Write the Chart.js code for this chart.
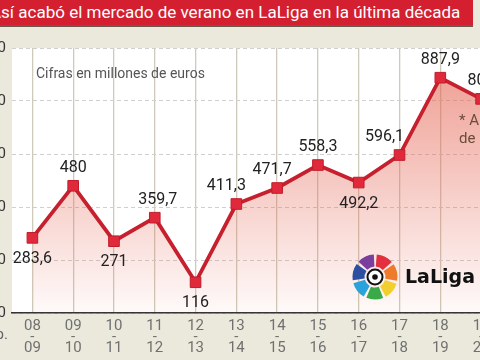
<!DOCTYPE html>
<html>
<head>
<meta charset="utf-8">
<script src="https://cdn.jsdelivr.net/npm/chart.js@4"></script>
<style>
  html, body { margin: 0; padding: 0; }
  body { width: 480px; height: 360px; overflow: hidden; position: relative; background: #ebe9dc; font-family: Roboto, sans-serif; }
  #title { position: absolute; left: -10px; top: 0; width: 483px; height: 25px; background: #d31f30; color: #fff;
           font-size: 17px; line-height: 24px; white-space: nowrap; border-bottom: 2px solid #6b5a50; z-index: 2; }
  #wrap { position: absolute; left: -30px; top: 0; width: 540px; height: 360px; }
  #note { position: absolute; left: 36px; top: 65px; font-size: 14px; color: #555; }
  #temp { position: absolute; left: -60px; width: 68px; top: 325px; text-align: right; font-size: 15px; color: #666; }
  #star { position: absolute; left: 459px; top: 111px; font-size: 15px; line-height: 18px; color: #6b4b3b; white-space: nowrap; }
</style>
</head>
<body>
<div id="title">Así acabó el mercado de verano en LaLiga en la última década</div>
<div id="wrap"><canvas id="chart" width="540" height="360"></canvas></div>
<div id="note">Cifras en millones de euros</div>
<div id="temp">Temp.</div>
<div id="star">* A fecha de cierre<br>de la ventana</div>
<script>
  // Temporadas (verano) y gasto en millones de euros
  const seasons = ['08-09', '09-10', '10-11', '11-12', '12-13', '13-14', '14-15', '15-16', '16-17', '17-18', '18-19', '19-20'];
  const spending = [283.6, 480, 271, 359.7, 116, 411.3, 471.7, 558.3, 492.2, 596.1, 887.9, 808];
  const yTicks = [0, 200, 400, 600, 800, 1000];

  const fmt = v => String(v).replace('.', ',');

  // fondo blanco del area del grafico
  const plotBg = {
    id: 'plotBg',
    beforeDraw(chart) {
      const { ctx, chartArea: a } = chart;
      ctx.save();
      ctx.fillStyle = '#ffffff';
      ctx.fillRect(a.left, a.top, chart.width - a.left, a.bottom - a.top);
      ctx.restore();
    }
  };

  // etiquetas de valor encima / debajo de cada punto
  const valueLabels = {
    id: 'valueLabels',
    afterDatasetsDraw(chart, args, opts) {
      const meta = chart.getDatasetMeta(0);
      const ctx = chart.ctx;
      ctx.save();
      ctx.font = '16px Roboto';
      ctx.fillStyle = '#222';
      ctx.textAlign = 'center';
      ctx.textBaseline = 'middle';
      meta.data.forEach((pt, i) => {
        const below = opts.below.includes(i);
        const dx = opts.shift[i] || 0;
        ctx.fillText(fmt(spending[i]), pt.x + dx, pt.y + (below ? 21 : -18));
      });
      ctx.restore();
    }
  };

  // logo de LaLiga
  const logo = {
    id: 'logo',
    afterDraw(chart) {
      const ctx = chart.ctx;
      const cx = 405, cy = 277;
      const colors = ['#7a3e9d', '#e3303f', '#ee7a2c', '#f3cf2e', '#3aa948', '#2aa3dc', '#2c4fa1'];
      ctx.save();
      ctx.lineWidth = 12;
      colors.forEach((c, i) => {
        const mid = (-115 + i * 360 / 7) * Math.PI / 180;
        const half = 22 * Math.PI / 180;
        ctx.strokeStyle = c;
        ctx.beginPath();
        ctx.arc(cx, cy, 16.5, mid - half, mid + half);
        ctx.stroke();
      });
      ctx.fillStyle = '#fff';
      ctx.strokeStyle = '#111';
      ctx.lineWidth = 2;
      ctx.beginPath();
      ctx.arc(cx, cy, 7.5, 0, Math.PI * 2);
      ctx.fill();
      ctx.stroke();
      ctx.fillStyle = '#111';
      ctx.beginPath();
      ctx.arc(cx, cy, 2.8, 0, Math.PI * 2);
      ctx.fill();
      ctx.font = 'bold 19px "DejaVu Sans"';
      ctx.textAlign = 'left';
      ctx.textBaseline = 'middle';
      ctx.fillText('LaLiga', cx + 30, cy + 1);
      ctx.restore();
    }
  };

  new Chart(document.getElementById('chart'), {
    type: 'line',
    data: {
      labels: seasons.map(s => [s.slice(0, 2), '-', s.slice(3)]),
      datasets: [{
        data: spending,
        borderColor: '#c6202e',
        borderWidth: 3.8,
        tension: 0,
        fill: 'origin',
        backgroundColor: (c) => {
          const a = c.chart.chartArea;
          if (!a) return 'rgba(0,0,0,0)';
          const g = c.chart.ctx.createLinearGradient(0, a.top, 0, a.bottom);
          g.addColorStop(0, 'rgba(228, 98, 80, 0.65)');
          g.addColorStop(1, 'rgba(228, 98, 80, 0.03)');
          return g;
        },
        pointStyle: 'rect',
        pointRadius: 7.5,
        pointBackgroundColor: '#e02a3c',
        pointBorderColor: '#c01c2a',
        pointBorderWidth: 1
      }]
    },
    options: {
      responsive: false,
      animation: false,
      devicePixelRatio: 1,
      layout: { padding: { top: 48, right: 6, left: 0, bottom: 0 } },
      scales: {
        x: {
          offset: true,
          afterFit: s => { s.height = 47; },
          grid: { offset: false, color: '#cfcab9', lineWidth: 1.3, drawTicks: false },
          border: { color: '#333', width: 1.5 },
          ticks: { color: '#707070', font: { family: 'Roboto', size: 15, lineHeight: 0.72 }, padding: 8, maxRotation: 0, autoSkip: false }
        },
        y: {
          min: yTicks[0],
          max: yTicks[yTicks.length - 1],
          afterFit: s => { s.width = 42; },
          afterBuildTicks: s => { s.ticks = yTicks.map(v => ({ value: v })); },
          grid: { color: '#cfcfcf', lineWidth: 1, drawTicks: false },
          border: { display: false, dash: [4, 3] },
          ticks: { color: '#333', font: { family: 'Roboto', size: 15 }, padding: 6 }
        }
      },
      plugins: {
        legend: { display: false },
        tooltip: { enabled: false },
        valueLabels: { below: [0, 2, 4, 8], shift: { 3: 3, 5: -10, 6: -5, 9: -15 } }
      }
    },
    plugins: [plotBg, valueLabels, logo]
  });
</script>
</body>
</html>
